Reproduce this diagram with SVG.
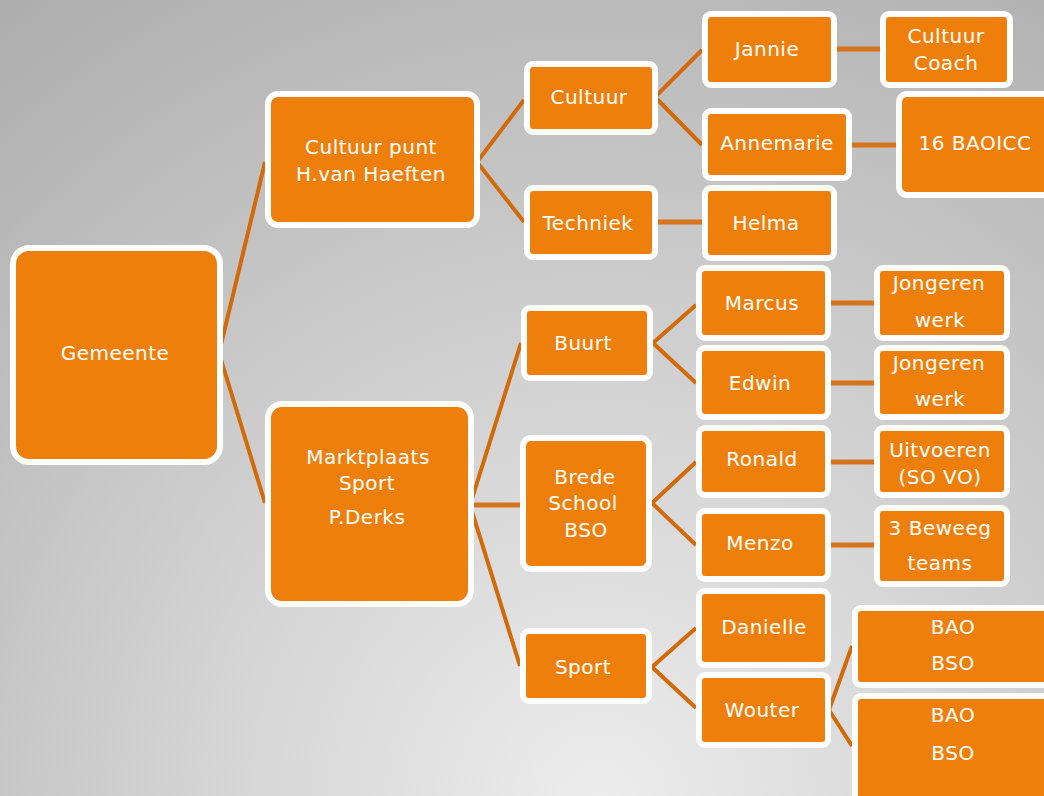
<svg xmlns="http://www.w3.org/2000/svg" width="1044" height="796" viewBox="0 0 1044 796">
<defs>
<radialGradient id="bg" gradientUnits="userSpaceOnUse" cx="600" cy="800" r="1000">
<stop offset="0" stop-color="#ededed"/>
<stop offset="1" stop-color="#adadad"/>
</radialGradient>
</defs>
<style>
.n rect{fill:#EF7F0B;stroke:#ffffff;stroke-width:6}
.n text{fill:#ffffff;font-family:"DejaVu Sans",Verdana,sans-serif;font-size:20px;letter-spacing:0.5px;text-anchor:middle}
.c path{fill:none;stroke:#D26A09;stroke-width:4}
.c path.h{stroke-width:5;stroke:#D7731A}
</style>
<rect x="0" y="0" width="1044" height="796" fill="url(#bg)"/>
<g class="c" id="connectors">
<path d="M219,353 L265,162 M219,353 L265,503"/>
<path d="M477,162 L524,100 M477,162 L524,222"/>
<path d="M655,97 L702,50 M655,97 L702,145"/>
<path class="h" d="M837,49 L880,49 M852,145 L896,145 M658,222 L702,222"/>
<path d="M470,505 L521,343 M470,505 L520,666"/>
<path class="h" d="M474,505 L520,505"/>
<path d="M653,343 L696,305 M653,343 L696,383"/>
<path d="M652,503 L696,462 M652,503 L696,545"/>
<path d="M652,667 L696,628 M652,667 L696,708"/>
<path d="M829,710 L852,646 M829,710 L852,746"/>
<path class="h" d="M831,303 L874,303 M831,383 L874,383 M831,462 L874,462 M831,545 L874,545"/>
</g>
<g class="n" id="gemeente"><rect x="13" y="248" width="207" height="214" rx="16"/><text x="115" y="360">Gemeente</text></g>
<g class="n" id="cultuurpunt"><rect x="268" y="94" width="209" height="131" rx="10"/><text x="371" y="154">Cultuur punt</text><text x="371" y="181">H.van Haeften</text></g>
<g class="n" id="marktplaats"><rect x="268" y="404" width="203" height="200" rx="14"/><text x="368" y="464">Marktplaats</text><text x="367" y="490">Sport</text><text x="367" y="524">P.Derks</text></g>
<g class="n" id="cultuur"><rect x="527" y="64" width="128" height="68" rx="6"/><text x="589" y="104">Cultuur</text></g>
<g class="n" id="techniek"><rect x="527" y="188" width="128" height="69" rx="6"/><text x="588" y="230">Techniek</text></g>
<g class="n" id="buurt"><rect x="524" y="308" width="126" height="70" rx="6"/><text x="583" y="350">Buurt</text></g>
<g class="n" id="brede"><rect x="523" y="438" width="126" height="131" rx="8"/><text x="585" y="484">Brede</text><text x="583" y="510">School</text><text x="586" y="537">BSO</text></g>
<g class="n" id="sport"><rect x="523" y="631" width="126" height="70" rx="6"/><text x="583" y="674">Sport</text></g>
<g class="n" id="jannie"><rect x="705" y="14" width="129" height="71" rx="6"/><text x="767" y="56">Jannie</text></g>
<g class="n" id="annemarie"><rect x="705" y="111" width="144" height="67" rx="6"/><text x="777" y="150">Annemarie</text></g>
<g class="n" id="helma"><rect x="705" y="188" width="129" height="70" rx="6"/><text x="766" y="230">Helma</text></g>
<g class="n" id="marcus"><rect x="699" y="268" width="129" height="70" rx="6"/><text x="762" y="310">Marcus</text></g>
<g class="n" id="edwin"><rect x="699" y="348" width="129" height="69" rx="6"/><text x="760" y="390">Edwin</text></g>
<g class="n" id="ronald"><rect x="699" y="428" width="129" height="67" rx="6"/><text x="762" y="466">Ronald</text></g>
<g class="n" id="menzo"><rect x="699" y="511" width="129" height="68" rx="6"/><text x="760" y="550">Menzo</text></g>
<g class="n" id="danielle"><rect x="699" y="591" width="129" height="74" rx="6"/><text x="764" y="634">Danielle</text></g>
<g class="n" id="wouter"><rect x="699" y="675" width="129" height="70" rx="6"/><text x="762" y="717">Wouter</text></g>
<g class="n" id="cultuurcoach"><rect x="883" y="14" width="127" height="71" rx="6"/><text x="946" y="43">Cultuur</text><text x="946" y="70">Coach</text></g>
<g class="n" id="baoicc"><rect x="899" y="94" width="160" height="101" rx="8"/><text x="975" y="150">16 BAOICC</text></g>
<g class="n" id="jongeren1"><rect x="877" y="268" width="130" height="70" rx="6"/><text x="939" y="290">Jongeren</text><text x="940" y="327">werk</text></g>
<g class="n" id="jongeren2"><rect x="877" y="348" width="130" height="69" rx="6"/><text x="939" y="370">Jongeren</text><text x="940" y="406">werk</text></g>
<g class="n" id="uitvoeren"><rect x="877" y="428" width="130" height="67" rx="6"/><text x="940" y="457">Uitvoeren</text><text x="940" y="484">(SO VO)</text></g>
<g class="n" id="beweeg"><rect x="877" y="508" width="130" height="76" rx="6"/><text x="940" y="535">3 Beweeg</text><text x="940" y="570">teams</text></g>
<g class="n" id="bao1"><rect x="855" y="608" width="205" height="77" rx="6"/><text x="953" y="634">BAO</text><text x="953" y="670">BSO</text></g>
<g class="n" id="bao2"><rect x="855" y="696" width="205" height="110" rx="6"/><text x="953" y="722">BAO</text><text x="953" y="760">BSO</text></g>
</svg>
